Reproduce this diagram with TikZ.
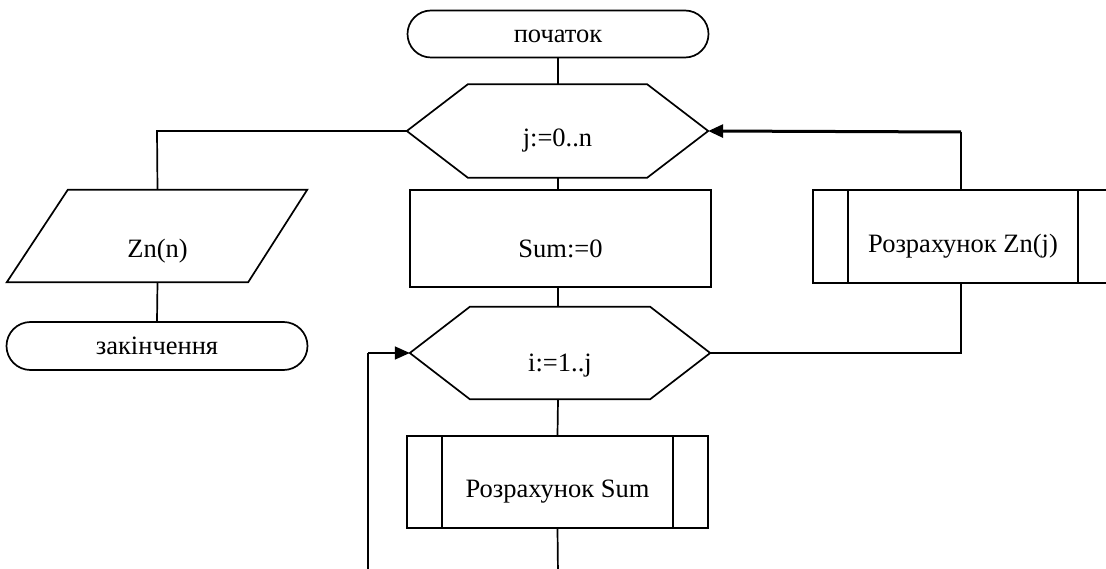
\documentclass[tikz,border=0pt]{standalone}
\usepackage{fontspec}
\setmainfont{Liberation Serif}
\usetikzlibrary{calc,arrows.meta,shapes.misc,shapes.geometric}
\begin{document}
\begin{tikzpicture}[x=1pt,y=-1pt,
  every node/.style={font=\fontsize{26.5}{30}\selectfont, inner sep=0pt},
  txt/.style={anchor=base},
  ln/.style={line width=1.7pt, line join=miter},
  term/.style={ln, draw, rounded rectangle, minimum width=301pt, minimum height=47pt},
  blk/.style={minimum width=#1, minimum height=93pt},
  procbox/.style={ln, draw, rectangle, minimum width=301pt, minimum height=95pt},
  arr/.style={-{Triangle[length=15pt,width=13pt]}}
]
\useasboundingbox (0,0) rectangle (1106,569);
\clip (0,0) rectangle (1106,569);
\fill[white] (0,0) rectangle (1106,569);

% start
\node[term] (start) at (558,34) {};
\node[txt] (startt) at (558,43) {початок};
% hexagon j
\node[blk=301pt] (hj) at (557.5,131) {};
\draw[ln] (hj.west) -- ($(hj.north west)+(61,0)$) -- ($(hj.north east)+(-61,0)$) -- (hj.east)
  -- ($(hj.south east)+(-61,0)$) -- ($(hj.south west)+(61,0)$) -- cycle;
\node[txt] (hjt) at (557.5,147) {j:=0..n};
% Sum:=0
\node[procbox, minimum height=97pt] (s0) at (560.5,238.5) {};
\node[txt] (s0t) at (560.5,258) {Sum:=0};
% hexagon i
\node[blk=300pt, minimum height=92pt] (hi) at (560,353) {};
\draw[ln] (hi.west) -- ($(hi.north west)+(60,0)$) -- ($(hi.north east)+(-60,0)$) -- (hi.east)
  -- ($(hi.south east)+(-60,0)$) -- ($(hi.south west)+(60,0)$) -- cycle;
\node[txt] (hit) at (560,371) {i:=1..j};
% Rozrakhunok Sum
\node[procbox, minimum height=92pt] (rs) at (557.5,482) {};
\draw[ln] ($(rs.north west)+(36,0)$) -- ($(rs.south west)+(36,0)$);
\draw[ln] ($(rs.north east)+(-36,0)$) -- ($(rs.south east)+(-36,0)$);
\node[txt] (rst) at (557.5,497) {Розрахунок Sum};
% Rozrakhunok Zn(j)
\node[procbox, minimum width=300pt, minimum height=93pt] (rz) at (963,236.5) {};
\draw[ln] ($(rz.north west)+(36,0)$) -- ($(rz.south west)+(36,0)$);
\draw[ln] ($(rz.north east)+(-36,0)$) -- ($(rz.south east)+(-36,0)$);
\node[txt] (rzt) at (963,253) {Розрахунок Zn(j)};
% Zn(n) parallelogram
\node[blk=240pt, minimum height=92pt] (zn) at (157.5,236) {};
\draw[ln] ($(zn.north west)+(30.5,0)$) -- ($(zn.north east)+(29.5,0)$)
  -- ($(zn.south east)+(-29.5,0)$) -- ($(zn.south west)+(-30.5,0)$) -- cycle;
\node[txt] (znt) at (157.5,258) {Zn(n)};
% end
\node[term, minimum height=48pt] (fin) at (157,346) {};
\node[txt] (fint) at (157,355) {закінчення};

% coordinates
\coordinate (c1) at (157,131);
\coordinate (c2) at (961,132);
\coordinate (c3) at (961,353);
\coordinate (c4) at (368,353);
\coordinate (c5) at (368,575);
\coordinate (c6) at (558,575);

% connectors
\draw[ln] (start.south) -- (start.south |- hj.north);
\draw[ln] (hj.south -| start.south) -- (start.south |- s0.north);
\draw[ln] (start.south |- s0.south) -- (start.south |- hi.north);
\draw[ln] (start.south |- hi.south) -- (rs.north);
\draw[ln] (rs.south) -- (c6);
\draw[ln] (hj.west) -- (c1) -- (zn.north);
\draw[ln] (zn.south) -- (fin.north);
\draw[ln] (c2 |- rz.north) -- (c2);
\draw[line width=3pt, arr] (c2) -- (hj.east);
\draw[ln] (c2 |- rz.south) -- (c3) -- (hi.east);
\draw[ln] (c5) -- (c4);
\draw[ln, arr] (c4) -- (hi.west);
\end{tikzpicture}
\end{document}
